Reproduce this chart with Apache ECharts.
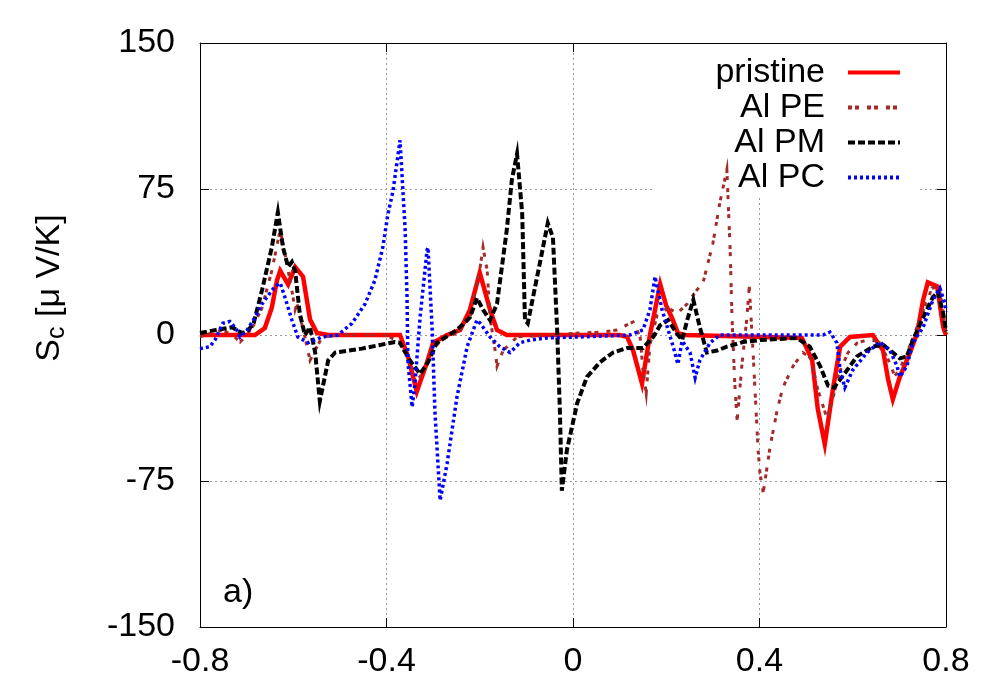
<!DOCTYPE html>
<html>
<head>
<meta charset="utf-8">
<script src="https://cdn.jsdelivr.net/npm/echarts@6/dist/echarts.min.js"></script>
<style>
  html, body { margin: 0; padding: 0; background: #fff; }
  #seebeckChart { width: 1000px; height: 700px; }
</style>
</head>
<body>
<div id="seebeckChart"></div>
<script>
// tick values
var xTicks = [-0.8, -0.4, 0, 0.4, 0.8];
var yTicks = [-150, -75, 0, 75, 150];
var seriesNames = ["pristine", "Al PE", "Al PM", "Al PC"];

// [E, S_c]
var pristine = [
  [-0.8, 0], [-0.682, 0], [-0.661, 3.6], [-0.646, 14], [-0.635, 28], [-0.628, 33],
  [-0.611, 26], [-0.596, 35], [-0.579, 30], [-0.564, 8], [-0.549, 1], [-0.525, 0],
  [-0.371, 0], [-0.354, -11], [-0.335, -29], [-0.313, -14], [-0.3, -4], [-0.27, 0],
  [-0.242, 2.6], [-0.221, 13], [-0.2, 32], [-0.178, 13], [-0.163, 2.6], [-0.142, 0],
  [0.1, 0], [0.116, -1], [0.129, -8], [0.148, -25], [0.165, 0], [0.187, 26],
  [0.2, 15], [0.212, 9], [0.225, 1], [0.24, 0], [0.491, -1.5], [0.513, -13],
  [0.525, -38], [0.54, -56], [0.558, -27], [0.573, -6], [0.594, -1], [0.643, 0],
  [0.665, -8], [0.676, -23], [0.686, -33], [0.701, -21.5], [0.723, -9], [0.738, 1],
  [0.751, 18], [0.761, 27], [0.781, 25], [0.794, 4], [0.8, 0]
];
var alPE = [
  [-0.8, -1], [-0.775, 1], [-0.753, 2.6], [-0.73, 0], [-0.714, -3.6], [-0.703, -1],
  [-0.685, 5], [-0.667, 14], [-0.646, 33], [-0.628, 54], [-0.618, 42], [-0.603, 23],
  [-0.596, 13], [-0.592, 16], [-0.584, 8], [-0.575, -1], [-0.564, -13], [-0.549, -6],
  [-0.538, -1], [-0.5, 0], [-0.4, 0], [-0.371, -4], [-0.343, -18], [-0.328, -21.5],
  [-0.313, -14], [-0.285, -2.6], [-0.249, 1], [-0.221, 9], [-0.199, 35], [-0.193, 45],
  [-0.184, 33], [-0.178, 9], [-0.167, -8], [-0.163, -16], [-0.15, -8], [-0.12, -1],
  [-0.05, 0], [0.015, 1], [0.064, 1.5], [0.094, 2.6], [0.129, 6.7], [0.144, -1],
  [0.15, -18], [0.157, -30], [0.165, -5], [0.18, 10], [0.204, 14], [0.223, 11],
  [0.245, 16], [0.262, 22], [0.279, 27], [0.3, 47], [0.315, 68], [0.33, 85],
  [0.337, 44], [0.341, 9], [0.347, -25], [0.352, -44], [0.362, -16], [0.373, 9],
  [0.378, 25], [0.386, -8], [0.397, -59], [0.401, -71], [0.408, -81], [0.423, -57],
  [0.438, -38.5], [0.45, -27], [0.472, -16], [0.493, -9], [0.51, -12], [0.525, -28],
  [0.545, -43], [0.56, -30], [0.57, -20], [0.59, -9], [0.61, -4], [0.63, -2.6],
  [0.655, -3], [0.675, -12], [0.69, -21], [0.7, -18], [0.715, -10], [0.73, -1],
  [0.75, 12], [0.77, 24], [0.785, 25], [0.795, 10], [0.8, 0]
];
var alPM = [
  [-0.8, 1], [-0.768, 2.5], [-0.731, 4], [-0.71, 1], [-0.7, 1.5], [-0.685, 6],
  [-0.667, 23], [-0.646, 45], [-0.633, 63], [-0.622, 45], [-0.611, 35], [-0.603, 37.5],
  [-0.596, 33], [-0.586, 11], [-0.575, 0], [-0.564, 4], [-0.553, -9], [-0.543, -34],
  [-0.525, -13], [-0.51, -9], [-0.453, -7], [-0.382, -3.6], [-0.371, -4], [-0.35, -13],
  [-0.328, -20], [-0.311, -14], [-0.292, -4], [-0.249, 2.6], [-0.221, 9], [-0.206, 19],
  [-0.193, 13], [-0.178, 7.7], [-0.163, 16], [-0.142, 54], [-0.131, 80], [-0.12, 93],
  [-0.109, 62.6], [-0.103, 7.7], [-0.097, 6], [-0.071, 37], [-0.054, 57.5], [-0.043, 50],
  [-0.034, 2.6], [-0.028, -40], [-0.024, -80], [-0.013, -59], [0.009, -35], [0.03, -21.5],
  [0.058, -14], [0.086, -9], [0.116, -6.7], [0.15, -6.7], [0.172, -1], [0.187, 5],
  [0.204, 7.7], [0.222, 1], [0.234, -2.6], [0.245, 7.7], [0.258, 18], [0.272, 4],
  [0.287, -9], [0.309, -8], [0.33, -6], [0.365, -3.6], [0.401, -2.6], [0.48, -1.5],
  [0.508, -6], [0.53, -16], [0.547, -26], [0.56, -27], [0.588, -18], [0.609, -11],
  [0.643, -6], [0.665, -5], [0.686, -9], [0.701, -12], [0.716, -11], [0.729, -2.6],
  [0.751, 9], [0.772, 19.5], [0.783, 22], [0.794, 11], [0.8, 2]
];
var alPC = [
  [-0.8, -7], [-0.779, -6], [-0.768, -2.6], [-0.751, 6], [-0.736, 7], [-0.721, 2.6],
  [-0.714, -1], [-0.699, 2.6], [-0.682, 9], [-0.667, 16], [-0.639, 25], [-0.628, 26.7],
  [-0.618, 19.5], [-0.603, 7.7], [-0.59, -1], [-0.568, -4], [-0.538, -1], [-0.504, 0],
  [-0.474, 6], [-0.446, 16], [-0.425, 28], [-0.408, 45], [-0.397, 62], [-0.386, 74],
  [-0.371, 100], [-0.36, 54], [-0.356, 19.5], [-0.354, -14], [-0.345, -37], [-0.339, -25],
  [-0.328, 9], [-0.313, 43.7], [-0.311, 45], [-0.302, 2.6], [-0.296, -40], [-0.285, -85],
  [-0.27, -66], [-0.249, -32], [-0.227, -6], [-0.206, 7.7], [-0.199, 6], [-0.178, -1],
  [-0.157, -6], [-0.135, -9], [-0.114, -4], [-0.092, -2.6], [-0.056, -1.5], [0.015, -1],
  [0.122, 0], [0.15, 2.6], [0.165, 13], [0.176, 30], [0.191, 13], [0.204, 2.6],
  [0.215, -6], [0.225, -15], [0.234, -3], [0.251, -9], [0.262, -22], [0.272, -13],
  [0.294, -4], [0.315, 0], [0.536, 0], [0.551, 1.5], [0.566, -4], [0.573, -18],
  [0.583, -27], [0.6, -18], [0.631, -9], [0.658, -3.6], [0.68, -8], [0.695, -16],
  [0.701, -21.5], [0.716, -16], [0.729, -4], [0.751, 4], [0.772, 18], [0.787, 24],
  [0.798, 16], [0.8, 12]
];

var FONT = "'Liberation Sans', Arial, sans-serif";

function initChart() {
  var chartDom = document.getElementById("seebeckChart");
  var myChart = echarts.init(chartDom);
  var option;

  var tickStyle = { show: true, inside: true, length: 9, lineStyle: { color: "#000", width: 1 } };
  var lineAxis = { show: true, onZero: false, lineStyle: { color: "#000", width: 1 } };
  var gridDots = { show: true, showMinLine: false, showMaxLine: false, lineStyle: { color: "#999", width: 1, type: [2, 3] } };

  option = {
    animation: false,
    backgroundColor: "#fff",
    textStyle: { fontFamily: FONT },
    grid: { left: 200, right: 54, top: 43, bottom: 73, containLabel: false },
    legend: {
      orient: "vertical",
      right: 98,
      top: 55,
      padding: 0,
      align: "right",
      itemWidth: 52,
      itemHeight: 10,
      itemGap: 0,
      selectedMode: false,
      data: seriesNames,
      lineStyle: { width: 4 },
      itemStyle: { opacity: 0, borderWidth: 0 },
      textStyle: { fontFamily: FONT, fontSize: 34, lineHeight: 35, color: "#000", padding: [0, 18, 0, 0] }
    },
    xAxis: [
      {
        type: "value", min: xTicks[0], max: xTicks[xTicks.length - 1], interval: 0.4,
        axisLine: lineAxis, axisTick: tickStyle, splitLine: gridDots,
        axisLabel: { fontFamily: FONT, fontSize: 34, color: "#000", margin: 18 }
      },
      {
        type: "value", position: "top", min: xTicks[0], max: xTicks[xTicks.length - 1], interval: 0.4,
        axisLine: lineAxis, axisTick: tickStyle, splitLine: { show: false }, axisLabel: { show: false }
      }
    ],
    yAxis: [
      {
        type: "value", min: yTicks[0], max: yTicks[yTicks.length - 1], interval: 75,
        axisLine: lineAxis, axisTick: tickStyle, splitLine: gridDots,
        axisLabel: { fontFamily: FONT, fontSize: 34, color: "#000", margin: 25 },
        name: "{s|S}{c|c}{s| [μ V/K]}",
        nameLocation: "middle",
        nameRotate: 90,
        nameGap: 130,
        nameTextStyle: {
          padding: [0, 0, 0, 94],
          rich: {
            s: { fontFamily: FONT, fontSize: 34, lineHeight: 40, color: "#000", verticalAlign: "middle" },
            c: { fontFamily: FONT, fontSize: 25, lineHeight: 40, color: "#000", verticalAlign: "bottom" }
          }
        }
      },
      {
        type: "value", position: "right", min: yTicks[0], max: yTicks[yTicks.length - 1], interval: 75,
        axisLine: lineAxis, axisTick: tickStyle, splitLine: { show: false }, axisLabel: { show: false }
      }
    ],
    graphic: [
      // opaque key box: hides the grid but not the curves
      { type: "rect", z: 1, silent: true, shape: { x: 655, y: 44, width: 265, height: 152 }, style: { fill: "#fff" } },
      { type: "text", z: 5, left: 223, top: 576, style: { text: "a)", font: "34px " + FONT, fill: "#000" } }
    ],
    series: [
      {
        name: seriesNames[0], type: "line", data: pristine, symbol: "none",
        lineStyle: { color: "#ff0000", width: 4.5, join: "miter" }, itemStyle: { color: "#ff0000" }
      },
      {
        name: seriesNames[1], type: "line", data: alPE, symbol: "none",
        lineStyle: { color: "#a52a2a", width: 3, type: [4, 3, 4, 8], join: "miter" }, itemStyle: { color: "#a52a2a" }
      },
      {
        name: seriesNames[2], type: "line", data: alPM, symbol: "none",
        lineStyle: { color: "#000000", width: 4, type: [7, 3], join: "miter" }, itemStyle: { color: "#000000" }
      },
      {
        name: seriesNames[3], type: "line", data: alPC, symbol: "none",
        lineStyle: { color: "#0000ff", width: 3.5, type: [3, 3], join: "miter" }, itemStyle: { color: "#0000ff" }
      }
    ]
  };

  option && myChart.setOption(option);

  window.onresize = function() {
    myChart.resize();
  };
}

initChart();
</script>
</body>
</html>
